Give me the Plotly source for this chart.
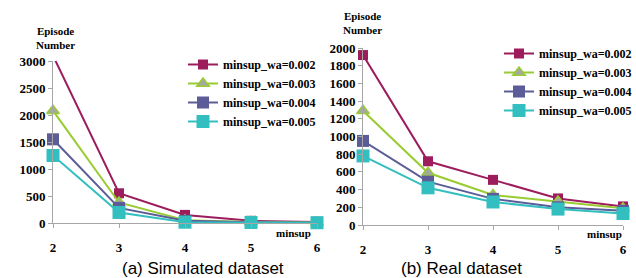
import plotly.graph_objects as go

minsup = [2, 3, 4, 5, 6]
series_names = ["minsup_wa=0.002", "minsup_wa=0.003", "minsup_wa=0.004", "minsup_wa=0.005"]

sim_002 = [3100, 550, 150, 40, 20]
sim_003 = [2080, 380, 50, 20, 10]
sim_004 = [1550, 280, 40, 15, 5]
sim_005 = [1250, 195, 15, 10, 5]

real_002 = [1920, 720, 510, 300, 210]
real_003 = [1290, 590, 340, 265, 190]
real_004 = [950, 490, 295, 200, 160]
real_005 = [780, 420, 260, 180, 130]

left_ticks = [0, 500, 1000, 1500, 2000, 2500, 3000]
right_ticks = [0, 200, 400, 600, 800, 1000, 1200, 1400, 1600, 1800, 2000]

styles = [
    dict(line="#9C1C5C", marker=dict(symbol="square", size=10, color="#9C1C5C")),
    dict(line="#99CC33", marker=dict(symbol="triangle-up", size=11, color="#A6A6A6",
                                     line=dict(color="#99CC33", width=1.5))),
    dict(line="#5C5C99", marker=dict(symbol="square", size=12, color="#5C5C99")),
    dict(line="#33BFBF", marker=dict(symbol="square", size=13, color="#33BFBF")),
]

SERIF = "Liberation Serif, Times New Roman, DejaVu Serif, serif"
fig = go.Figure()

for i, (name, vals) in enumerate(zip(series_names, [sim_002, sim_003, sim_004, sim_005])):
    st = styles[i]
    fig.add_trace(go.Scatter(
        x=minsup, y=vals, name=name, mode="lines+markers",
        line=dict(color=st["line"], width=2), marker=st["marker"],
        xaxis="x", yaxis="y", legend="legend",
        cliponaxis=(i == 0),
    ))
for i, (name, vals) in enumerate(zip(series_names, [real_002, real_003, real_004, real_005])):
    st = styles[i]
    fig.add_trace(go.Scatter(
        x=minsup, y=vals, name=name, mode="lines+markers",
        line=dict(color=st["line"], width=2), marker=st["marker"],
        xaxis="x2", yaxis="y2", legend="legend2",
        cliponaxis=False,
    ))

W, H = 636, 278
def px(x):
    return x / W
def py(y):
    return 1 - y / H

tickfont = dict(family=SERIF, size=13, color="#000000", weight="bold")
axcommon = dict(showline=True, linecolor="#A6A6A6", linewidth=1, showgrid=False,
                zeroline=False, ticks="outside", ticklen=4, tickcolor="#A6A6A6",
                tickfont=tickfont, automargin=False)

fig.update_layout(
    width=W, height=H,
    margin=dict(l=0, r=0, t=0, b=0, pad=0, autoexpand=False),
    paper_bgcolor="white", plot_bgcolor="white",
    showlegend=True,
    xaxis=dict(domain=[px(53), px(317)], range=[2, 6], tickvals=minsup, anchor="y",
               ticklabelstandoff=8, **axcommon),
    yaxis=dict(domain=[py(223), py(61)], range=[0, 3000], tickvals=left_ticks, anchor="x", **axcommon),
    xaxis2=dict(domain=[px(363), px(623)], range=[2, 6], tickvals=minsup, anchor="y2",
                ticklabelstandoff=8, **axcommon),
    yaxis2=dict(domain=[py(225), py(48)], range=[0, 2000], tickvals=right_ticks, anchor="x2", **axcommon),
    legend=dict(x=px(183), y=py(50), xanchor="left", yanchor="top", bgcolor="rgba(0,0,0,0)",
                font=dict(family=SERIF, size=12, color="#000000", weight="bold"),
                itemwidth=30, tracegroupgap=0),
    legend2=dict(x=px(499), y=py(39), xanchor="left", yanchor="top", bgcolor="rgba(0,0,0,0)",
                 font=dict(family=SERIF, size=12, color="#000000", weight="bold"),
                 itemwidth=30, tracegroupgap=0),
)

afont = dict(family=SERIF, size=11, color="#000000", weight="bold")
cfont = dict(family="Liberation Sans, Arial, sans-serif", size=17, color="#000000")
annotations = [
    dict(text="Episode<br>Number", x=px(55), y=py(38), font=afont, xanchor="center"),
    dict(text="Episode<br>Number", x=px(362), y=py(23), font=afont, xanchor="center"),
    dict(text="minsup", x=px(313), y=py(233), xanchor="right", font=afont),
    dict(text="minsup", x=px(624), y=py(234), xanchor="right", font=afont),
    dict(text="(a) Simulated dataset", x=px(203), y=py(268), font=cfont, xanchor="center"),
    dict(text="(b) Real dataset", x=px(461), y=py(268), font=cfont, xanchor="center"),
]
for a in annotations:
    fig.add_annotation(xref="paper", yref="paper", showarrow=False, yanchor="middle", **a)

fig.write_html("out.html", config={"displayModeBar": False},
               post_script="document.body.style.margin='0';document.body.style.overflow='hidden';")
